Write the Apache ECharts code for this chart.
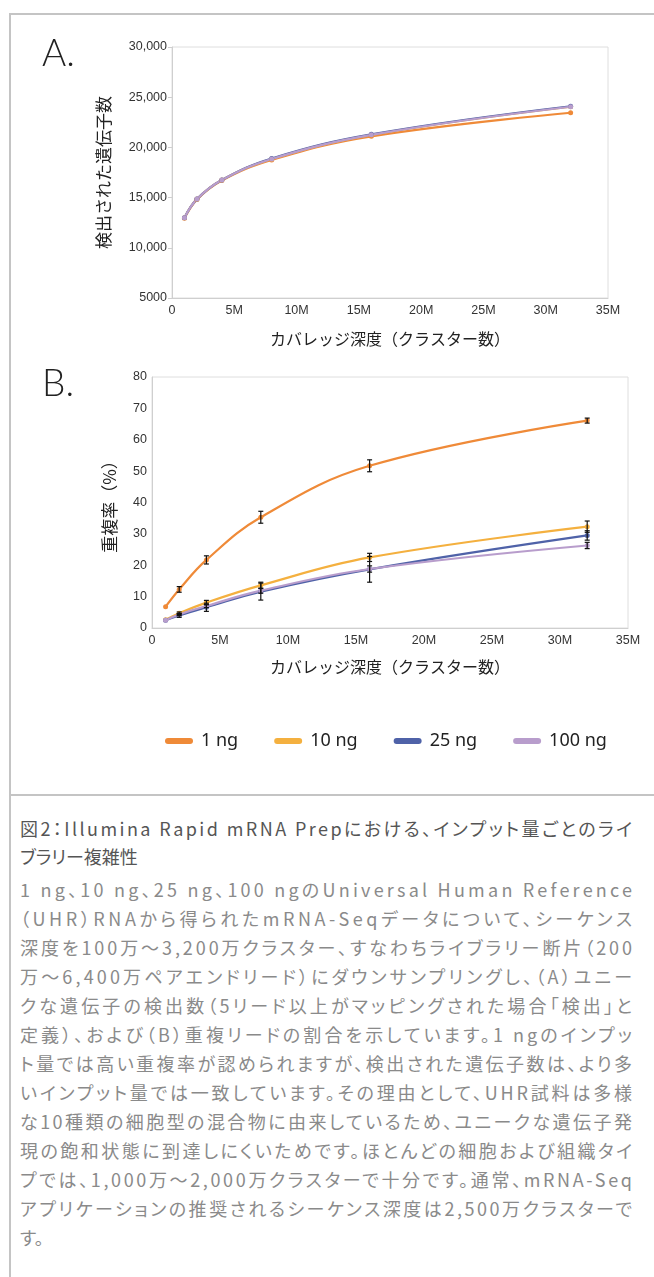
<!DOCTYPE html>
<html>
<head>
<meta charset="utf-8">
<script src="https://cdn.jsdelivr.net/npm/echarts@6/dist/echarts.min.js"></script>
<style>
  html, body { margin: 0; padding: 0; background: #fff; }
  body { width: 654px; height: 1277px; position: relative; overflow: hidden; }
  #chart { position: absolute; left: 0; top: 0; width: 654px; height: 790px; }
  .frame-left { position: absolute; left: 9px; top: 13px; width: 2px; height: 1264px; background: #c4c4c4; }
  .frame-top { position: absolute; left: 9px; top: 13px; width: 645px; height: 2px; background: #c4c4c4; }
  .frame-sep { position: absolute; left: 9px; top: 794px; width: 645px; height: 2px; background: #c4c4c4; }
  .caption { position: absolute; left: 20px; top: 814px; width: 640px;
    font-family: "Noto Sans CJK JP", sans-serif; font-size: 18px; line-height: 29px;
    font-feature-settings: "palt"; }
  .caption .line { display: block; white-space: nowrap; }
  .caption .line span { display: inline-block; }
  .caption .title { color: #555; line-height: 28px; }
  .caption .body { color: #8a8a8a; margin-top: 5px; }
</style>
</head>
<body>
<div class="frame-left"></div>
<div class="frame-top"></div>
<div class="frame-sep"></div>
<div id="chart"></div>
<div class="caption">
  <div class="title">
    <div class="line"><span>図2：Illumina Rapid mRNA Prepにおける、インプット量ごとのライ</span></div>
    <div class="line last"><span>ブラリー複雑性</span></div>
  </div>
  <div class="body">
    <div class="line"><span>1 ng、10 ng、25 ng、100 ngのUniversal Human Reference</span></div>
    <div class="line"><span>（UHR）RNAから得られたmRNA-Seqデータについて、シーケンス</span></div>
    <div class="line"><span>深度を100万～3,200万クラスター、すなわちライブラリー断片（200</span></div>
    <div class="line"><span>万～6,400万ペアエンドリード）にダウンサンプリングし、（A）ユニー</span></div>
    <div class="line"><span>クな遺伝子の検出数（5リード以上がマッピングされた場合「検出」と</span></div>
    <div class="line"><span>定義）、および（B）重複リードの割合を示しています。1 ngのインプッ</span></div>
    <div class="line"><span>ト量では高い重複率が認められますが、検出された遺伝子数は、より多</span></div>
    <div class="line"><span>いインプット量では一致しています。その理由として、UHR試料は多様</span></div>
    <div class="line"><span>な10種類の細胞型の混合物に由来しているため、ユニークな遺伝子発</span></div>
    <div class="line"><span>現の飽和状態に到達しにくいためです。ほとんどの細胞および組織タイ</span></div>
    <div class="line"><span>プでは、1,000万～2,000万クラスターで十分です。通常、mRNA-Seq</span></div>
    <div class="line"><span>アプリケーションの推奨されるシーケンス深度は2,500万クラスターで</span></div>
    <div class="line last"><span>す。</span></div>
  </div>
</div>
<script>
// depth in millions of clusters
const depth = [1, 2, 4, 8, 16, 32];
const seriesNames = ['1 ng', '10 ng', '25 ng', '100 ng'];
const colors = ['#ef8a38', '#f4b03f', '#4f62a8', '#b89dcc'];

// A: detected genes
const genes1 = [12950, 14800, 16700, 18750, 21100, 23450];
const genes10 = [13000, 14850, 16750, 18850, 21250, 24050];
const genes25 = [13000, 14850, 16750, 18900, 21300, 24100];
const genes100 = [13000, 14850, 16750, 18850, 21250, 24050];

// B: duplication rate (%) and error (+/-)
const dup1 = [6.8, 12.3, 21.7, 35.3, 51.7, 66.1];
const dup10 = [2.6, 4.7, 8.1, 13.6, 22.5, 32.3];
const dup25 = [2.5, 4.0, 6.6, 11.6, 18.7, 29.5];
const dup100 = [2.5, 4.3, 7.0, 11.9, 18.8, 26.3];
const err1 = [0, 0.9, 1.3, 1.9, 1.9, 0.8];
const err10 = [0, 0.4, 0.7, 1.0, 1.3, 1.8];
const err25 = [0, 0.6, 1.3, 2.7, 4.1, 1.5];
const err100 = [0, 0.3, 0.5, 0.8, 1.0, 1.0];

const genes = [genes1, genes10, genes25, genes100];
const dups = [dup1, dup10, dup25, dup100];
const errs = [err1, err10, err25, err100];

// caption: spread characters so every full line spans the text column
const captionWidth = 612;
document.querySelectorAll('.caption .line:not(.last) span').forEach(el => {
  const w = el.getBoundingClientRect().width;
  const n = el.textContent.length;
  el.style.letterSpacing = ((captionWidth - w) / (n - 1)) + 'px';
});

const chart = echarts.init(document.getElementById('chart'));

const tickFont = { color: '#333', fontSize: 12.5, fontFamily: 'Liberation Sans, Arial, sans-serif' };
const nameFont = { color: '#222', fontSize: 17, fontFamily: 'Noto Sans CJK JP, sans-serif' };
const axisLine = { show: true, lineStyle: { color: '#cfcfcf', width: 1 } };

function xFmt(v) { return v === 0 ? '0' : v + 'M'; }

function pairs(ys) { return depth.map((x, i) => [x, ys[i]]); }

const series = [];
genes.forEach((g, k) => {
  series.push({
    name: seriesNames[k], type: 'line', xAxisIndex: 0, yAxisIndex: 0,
    data: pairs(g), smooth: 0.4, symbol: 'circle', symbolSize: 5,
    lineStyle: { width: 2.2, color: colors[k] }, itemStyle: { color: colors[k] }
  });
});
dups.forEach((d, k) => {
  series.push({
    name: seriesNames[k], type: 'line', xAxisIndex: 1, yAxisIndex: 1,
    data: pairs(d), smooth: 0.4, symbol: 'circle', symbolSize: 5,
    lineStyle: { width: 2.2, color: colors[k] }, itemStyle: { color: colors[k] }
  });
});

const errData = [];
dups.forEach((d, k) => {
  d.forEach((v, i) => {
    if (errs[k][i] > 0) errData.push([depth[i], v - errs[k][i], v + errs[k][i]]);
  });
});

series.push({
  name: 'err', type: 'custom', xAxisIndex: 1, yAxisIndex: 1, z: 10,
  data: errData,
  renderItem: function (params, api) {
    const lo = api.coord([api.value(0), api.value(1)]);
    const hi = api.coord([api.value(0), api.value(2)]);
    const w = 2.5;
    const st = { stroke: '#111', lineWidth: 1.2 };
    return {
      type: 'group',
      children: [
        { type: 'line', shape: { x1: lo[0], y1: lo[1], x2: hi[0], y2: hi[1] }, style: st },
        { type: 'line', shape: { x1: lo[0] - w, y1: lo[1], x2: lo[0] + w, y2: lo[1] }, style: st },
        { type: 'line', shape: { x1: hi[0] - w, y1: hi[1], x2: hi[0] + w, y2: hi[1] }, style: st }
      ]
    };
  }
});

chart.setOption({
  animation: false,
  graphic: [
    { type: 'text', left: 42, top: 36, style: { text: 'A.', fontSize: 37, fontWeight: 300, fontFamily: 'Lato, Noto Sans, sans-serif', fill: '#222' } },
    { type: 'text', left: 42, top: 366, style: { text: 'B.', fontSize: 37, fontWeight: 300, fontFamily: 'Lato, Noto Sans, sans-serif', fill: '#222' } }
  ],
  legend: {
    data: seriesNames, left: 160, top: 727, itemWidth: 28, itemHeight: 6, itemGap: 36,
    icon: 'path://M3,0H25A3,3,0,0,1,25,6H3A3,3,0,0,1,3,0Z',
    textStyle: { fontSize: 18, color: '#222', fontFamily: 'Noto Sans, sans-serif', padding: [0, 0, 0, 3] }
  },
  grid: [
    { left: 172, top: 47, width: 436, height: 251, show: true, borderColor: '#dedede', borderWidth: 1 },
    { left: 152, top: 377, width: 476, height: 251, show: true, borderColor: '#dedede', borderWidth: 1 }
  ],
  xAxis: [
    { type: 'value', gridIndex: 0, min: 0, max: 35, interval: 5, axisLine: axisLine, axisTick: { show: false },
      splitLine: { show: false }, axisLabel: Object.assign({ formatter: xFmt, margin: 6 }, tickFont),
      name: 'カバレッジ深度（クラスター数）', nameLocation: 'middle', nameGap: 33, nameTextStyle: Object.assign({}, nameFont, { fontSize: 16 }) },
    { type: 'value', gridIndex: 1, min: 0, max: 35, interval: 5, axisLine: axisLine, axisTick: { show: false },
      splitLine: { show: false }, axisLabel: Object.assign({ formatter: xFmt, margin: 6 }, tickFont),
      name: 'カバレッジ深度（クラスター数）', nameLocation: 'middle', nameGap: 31, nameTextStyle: Object.assign({}, nameFont, { fontSize: 16 }) }
  ],
  yAxis: [
    { type: 'value', gridIndex: 0, min: 5000, max: 30000, interval: 5000, axisLine: axisLine,
      axisTick: { show: true, length: 4, lineStyle: { color: '#cfcfcf' } }, splitLine: { show: false },
      axisLabel: Object.assign({ margin: 5, formatter: v => v < 10000 ? String(v) : v.toLocaleString('en-US') }, tickFont),
      name: '検出された遺伝子数', nameLocation: 'middle', nameGap: 60, nameTextStyle: nameFont },
    { type: 'value', gridIndex: 1, min: 0, max: 80, interval: 10, axisLine: axisLine,
      axisTick: { show: false }, splitLine: { show: false },
      axisLabel: Object.assign({ margin: 5 }, tickFont),
      name: '重複率（%）', nameLocation: 'middle', nameGap: 34, nameTextStyle: nameFont }
  ],
  series: series
});
</script>
</body>
</html>
